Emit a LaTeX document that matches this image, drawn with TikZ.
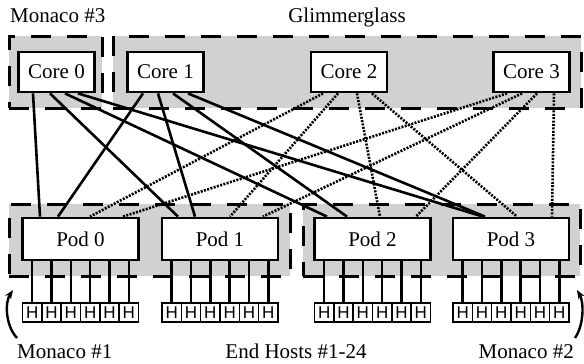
\documentclass[tikz,border=0pt]{standalone}
\usepackage{fontspec}
\setmainfont{Liberation Serif}
\newfontfamily\hostfont{Liberation Sans}
\usetikzlibrary{arrows.meta,calc}
\begin{document}
\begin{tikzpicture}[x=1pt,y=-1pt,
  every node/.style={font=\fontsize{21}{25}\selectfont},
  groupbox/.style={draw, fill=black!18, line width=3pt, dash pattern=on 20pt off 16pt, inner sep=0pt},
  switchbox/.style={draw, fill=white, line width=2.8pt, inner sep=0pt, minimum height=40pt, minimum width=76pt},
  podbox/.style={switchbox, minimum height=42pt, minimum width=116pt},
  hostbox/.style={draw, fill=white, line width=1.4pt, inner sep=0pt, minimum width=19.33pt, minimum height=19pt, font=\hostfont\fontsize{17}{17}\selectfont},
  link/.style={line width=2.6pt},
  dlink/.style={line width=2.6pt, dash pattern=on 2pt off 1.4pt},
  hostlink/.style={line width=2.5pt},
  curvearrow/.style={line width=2.4pt, -{Stealth[length=9pt,width=7pt]}},
  lbl/.style={inner sep=0pt}
]
\useasboundingbox (0,0) rectangle (584,364);

% group boxes
\node[groupbox, minimum width=93pt, minimum height=72pt] (mon3) at (55.5,72) {};
\node[groupbox, minimum width=468pt, minimum height=72pt] (glim) at (347,72) {};
\node[groupbox, minimum width=281pt, minimum height=72pt] (podsL) at (149.5,240) {};
\node[groupbox, minimum width=277pt, minimum height=72pt] (podsR) at (441.5,240) {};

% cores
\node[switchbox] (c0) at (56.5,72) {Core 0};
\node[switchbox] (c1) at (165.5,72) {Core 1};
\node[switchbox] (c2) at (349,72) {Core 2};
\node[switchbox] (c3) at (531.5,72) {Core 3};

% pods
\node[podbox] (p0) at (80.5,239) {Pod 0};
\node[podbox] (p1) at (220,239) {Pod 1};
\node[podbox] (p2) at (372.5,239) {Pod 2};
\node[podbox] (p3) at (511,239) {Pod 3};

% hosts
\foreach \p/\x in {0/80.5,1/220,2/372.5,3/511}{
  \foreach \k in {0,...,5}{
    \node[hostbox] (h\p\k) at ({\x-58+19.333*(\k+0.5)},312.5) {H};
    \draw[hostlink] (h\p\k.north |- p\p.south) -- (h\p\k.north);
  }
}

% core 0 links
\draw[link] ([xshift=-23.5pt]c0.south) -- ([xshift=-40.5pt]p0.north);
\draw[link] ([xshift=-6.5pt]c0.south) -- ([xshift=-42pt]p1.north);
\draw[link] ([xshift=8.5pt]c0.south) -- ([xshift=-45.5pt]p2.north);
\draw[link] ([xshift=21.5pt]c0.south) -- ([xshift=-28pt]p3.north);
% core 1 links
\draw[link] ([xshift=-22.5pt]c1.south) -- ([xshift=-22.5pt]p0.north);
\draw[link] ([xshift=-7.5pt]c1.south) -- ([xshift=-25pt]p1.north);
\draw[link] ([xshift=7.5pt]c1.south) -- ([xshift=-25.5pt]p2.north);
\draw[link] ([xshift=22.5pt]c1.south) -- ([xshift=-26pt]p3.north);
% core 2 links
\draw[dlink] ([xshift=-26pt]c2.south) -- ([xshift=9.5pt]p0.north);
\draw[dlink] ([xshift=-11pt]c2.south) -- ([xshift=10pt]p1.north);
\draw[dlink] ([xshift=8pt]c2.south) -- ([xshift=7.5pt]p2.north);
\draw[dlink] ([xshift=23pt]c2.south) -- ([xshift=6pt]p3.north);
% core 3 links
\draw[dlink] ([xshift=-24.5pt]c3.south) -- ([xshift=42.5pt]p0.north);
\draw[dlink] ([xshift=-9.5pt]c3.south) -- ([xshift=43pt]p1.north);
\draw[dlink] ([xshift=5.5pt]c3.south) -- ([xshift=43.5pt]p2.north);
\draw[dlink] ([xshift=22.5pt]c3.south) -- ([xshift=41pt]p3.north);

% labels
\node[lbl, anchor=base west] (t3) at (10,23) {Monaco \#3};
\node[lbl, anchor=base] (tg) at (347,23) {Glimmerglass};
\node[lbl, anchor=base west] (t1) at (17,358) {Monaco \#1};
\node[lbl, anchor=base] (te) at (296,358) {End Hosts \#1-24};
\node[lbl, anchor=base east] (t2) at (574,358) {Monaco \#2};

% curved arrows
\coordinate (a1s) at (17,338);
\coordinate (a1e) at (13,290);
\draw[curvearrow] (a1s) .. controls (5,325) and (5,302) .. (a1e);
\coordinate (a2s) at (575,338);
\coordinate (a2e) at (577,290);
\draw[curvearrow] (a2s) .. controls (584,325) and (584,302) .. (a2e);
\end{tikzpicture}
\end{document}
